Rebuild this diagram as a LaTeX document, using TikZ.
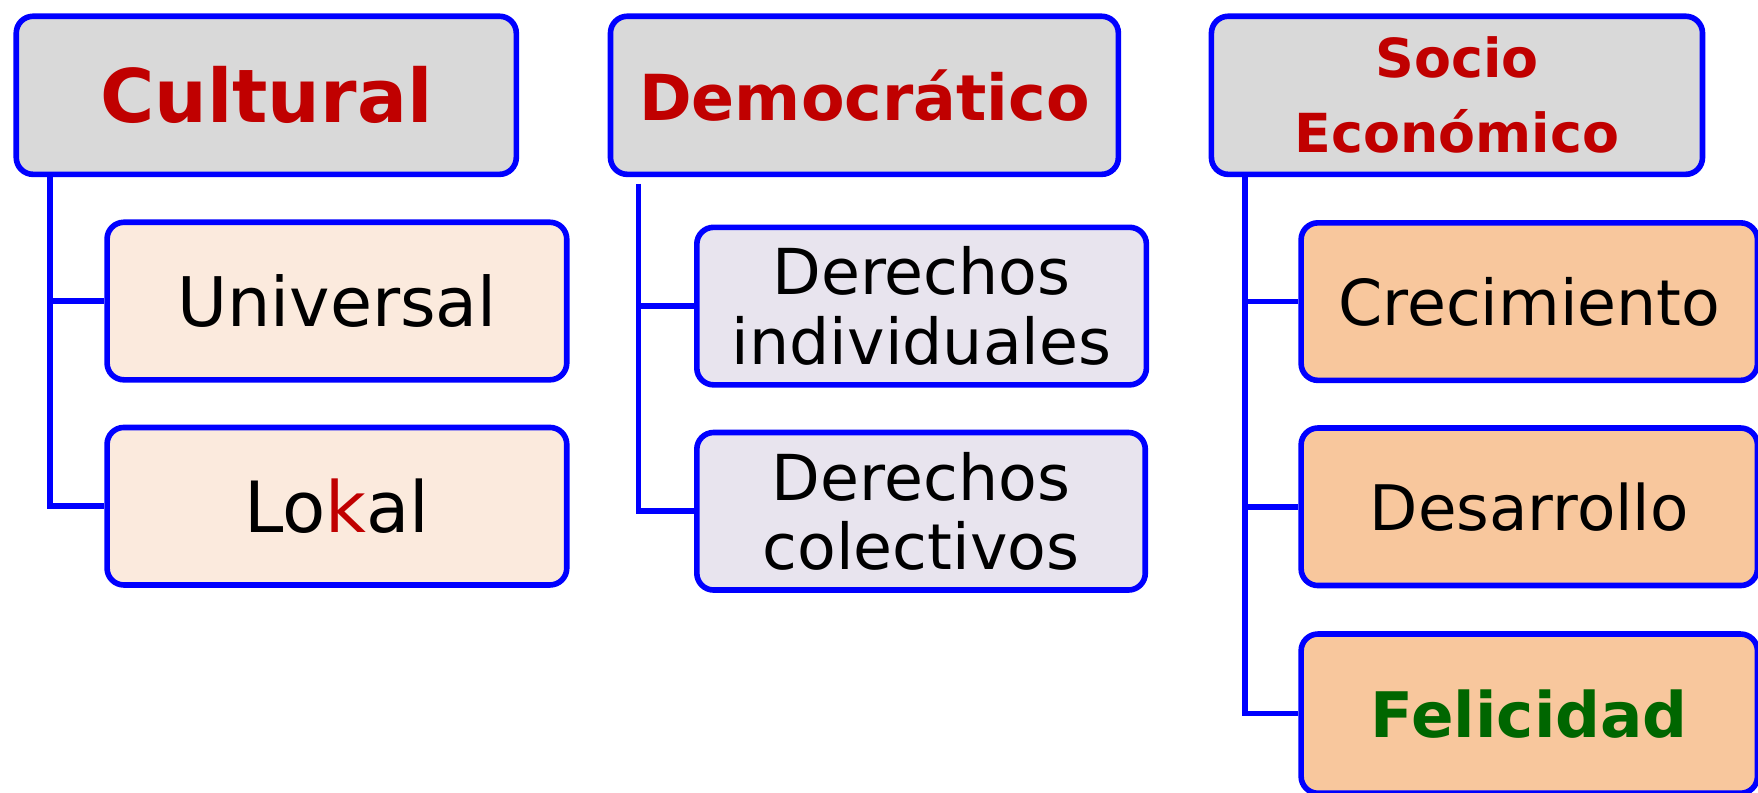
\documentclass[tikz,border=0pt]{standalone}
\usepackage{fontspec}
\setmainfont{DejaVu Sans}
\usepackage{tikz}
\definecolor{boxblue}{HTML}{0000FF}
\definecolor{titlered}{HTML}{C00000}
\definecolor{headgray}{HTML}{D9D9D9}
\definecolor{peach}{HTML}{FBEADD}
\definecolor{lilac}{HTML}{E8E4EE}
\definecolor{apricot}{HTML}{F8C79D}
\definecolor{leafgreen}{HTML}{006600}
\newcommand{\fs}[2]{\fontsize{#1}{#2}\selectfont}

\begin{document}
\begin{tikzpicture}[x=1pt,y=-1pt,
    box/.style={draw=boxblue,line width=5pt,rounded corners=15pt,align=center,inner sep=0pt},
    head/.style={box,fill=headgray,text=titlered,minimum height=141pt},
    kid/.style={box,minimum height=140.5pt},
    conn/.style={draw=boxblue,line width=5pt}]
      \useasboundingbox (0,0) rectangle (1568,707);
      \clip (0,0) rectangle (1568,707);
      \node (cult) at (237.5,85) [head,minimum width=446pt,font=\fs{66}{79}\bfseries] {Cultural};
      \node (univ) at (300.5,268.5) [kid,fill=peach,minimum width=410pt,font=\fs{61}{73}] {Universal};
      \node (lokal) at (300.5,451.5) [kid,fill=peach,minimum width=410pt,font=\fs{63}{75}] {Lo\textcolor{titlered}{k}al};
      \node (demo) at (771,85) [head,minimum width=453pt,font=\fs{56.6}{68}\bfseries] {Democrático};
      \node (dind) at (822,273) [kid,fill=lilac,minimum width=401pt,font=\fs{56.5}{62}] {Derechos\\individuales};
      \node (dcol) at (821.5,456) [kid,fill=lilac,minimum width=400pt,font=\fs{56.5}{61}] {Derechos\\colectivos};
      \node (socio) at (1299.5,85) [head,minimum width=438pt,font=\fs{48}{67}\bfseries] {Socio\\Económico};
      \node (crec) at (1364,269) [kid,fill=apricot,minimum width=407pt,font=\fs{56.5}{68}] {Crecimiento};
      \node (desa) at (1364,452) [kid,fill=apricot,minimum width=407pt,font=\fs{56}{68}] {Desarrollo};
      \node (feli) at (1364,636.5) [kid,fill=apricot,minimum width=407pt,minimum height=142pt,font=\fs{56}{68}\bfseries,text=leafgreen] {Felicidad};
      \draw[conn] ([xshift=32.5pt]cult.south west) |- (univ.west);
      \draw[conn] ([xshift=32.5pt]cult.south west) |- (lokal.west);
      \draw[conn] ([xshift=27.5pt,yshift=-6pt]demo.south west) |- (dind.west);
      \draw[conn] ([xshift=27.5pt,yshift=-6pt]demo.south west) |- (dcol.west);
      \draw[conn] ([xshift=32.5pt]socio.south west) |- (crec.west);
      \draw[conn] ([xshift=32.5pt]socio.south west) |- (desa.west);
      \draw[conn] ([xshift=32.5pt]socio.south west) |- (feli.west);
    \end{tikzpicture}
\end{document}
